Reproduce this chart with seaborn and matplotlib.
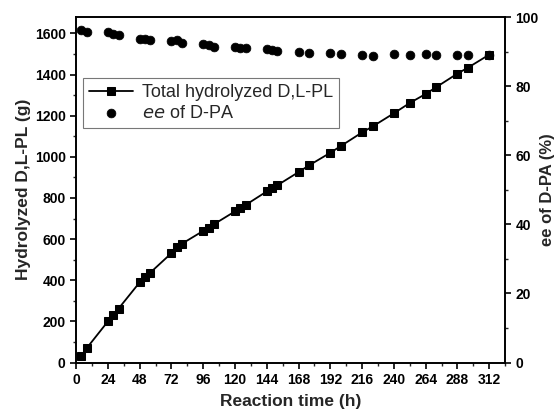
import numpy as np
import pandas as pd
import matplotlib
matplotlib.use('Agg')
import matplotlib.pyplot as plt
from matplotlib.ticker import MultipleLocator
import seaborn as sns

# ── Data ───────────────────────────────────────────────
time_h = [4, 8, 24, 28, 32, 48, 52, 56, 72, 76, 80, 96, 100, 104, 120, 124, 128,
          144, 148, 152, 168, 176, 192, 200, 216, 224, 240, 252, 264, 272, 288, 296, 312]
hydrolyzed_g = [30, 70, 200, 230, 262, 390, 418, 437, 532, 563, 578, 640, 655, 672,
                735, 751, 766, 832, 848, 862, 926, 959, 1020, 1053, 1119, 1148, 1212,
                1262, 1306, 1339, 1405, 1434, 1497]
ee_pct = [96.2, 95.7, 95.7, 95.2, 94.8, 93.7, 93.6, 93.4, 93.1, 93.3, 92.4, 92.1, 91.8,
          91.4, 91.3, 91.0, 90.9, 90.7, 90.4, 90.2, 89.9, 89.7, 89.5, 89.2, 89.0, 88.7,
          89.4, 89.0, 89.2, 88.9, 88.9, 89.1, 89.1]

df = pd.DataFrame({'time': time_h, 'hydrolyzed': hydrolyzed_g, 'ee': ee_pct})

sns.set_theme(style='ticks')
plt.rcParams['font.family'] = ['Liberation Sans', 'DejaVu Sans']

fig = plt.figure(figsize=(5.6, 4.16), dpi=100)
ax1 = fig.add_axes([0.136, 0.1286, 0.766, 0.8305])
ax2 = ax1.twinx()

sns.lineplot(data=df, x='time', y='hydrolyzed', ax=ax1, color='black', lw=1.3,
             marker='s', markersize=5.8, markeredgecolor='black',
             label='Total hydrolyzed D,L-PL', legend=False)
sns.scatterplot(data=df, x='time', y='ee', ax=ax2, color='black', s=40,
                edgecolor='black', label='$\\it{ee}$ of D-PA', legend=False)

ax1.set_xlim(0, 324)
ax1.set_ylim(0, 1680)
ax2.set_ylim(0, 100)

ax1.xaxis.set_major_locator(MultipleLocator(24))
ax1.xaxis.set_minor_locator(MultipleLocator(12))
ax1.yaxis.set_major_locator(MultipleLocator(200))
ax1.yaxis.set_minor_locator(MultipleLocator(100))
ax2.yaxis.set_major_locator(MultipleLocator(20))
ax2.yaxis.set_minor_locator(MultipleLocator(10))

for a in (ax1, ax2):
    a.tick_params(which='major', direction='out', length=4, width=1.2,
                  labelsize=10, colors='black')
    a.tick_params(which='minor', direction='out', length=2.5, width=1.0)
    for t in a.get_xticklabels() + a.get_yticklabels():
        t.set_fontweight('bold')
    for s in a.spines.values():
        s.set_linewidth(1.2)
        s.set_color('black')

ax1.set_xlabel('Reaction time (h)', fontsize=12.5, fontweight='bold', labelpad=5)
ax1.set_ylabel('Hydrolyzed D,L-PL (g)', fontsize=12.5, fontweight='bold', labelpad=3)
ax2.set_ylabel('ee of D-PA (%)', fontsize=12, fontweight='bold', labelpad=1)

h1, l1 = ax1.get_legend_handles_labels()
h2, l2 = ax2.get_legend_handles_labels()
leg = ax2.legend(h1 + h2, l1 + l2, loc='upper left', bbox_to_anchor=(0.016, 0.823),
                 borderaxespad=0, fontsize=13, frameon=True, fancybox=False,
                 edgecolor='#555555', handlelength=2.4, handletextpad=0.5,
                 borderpad=0.35, labelspacing=0.2)
leg.get_frame().set_linewidth(0.8)

fig.savefig('out.png', dpi=100)
